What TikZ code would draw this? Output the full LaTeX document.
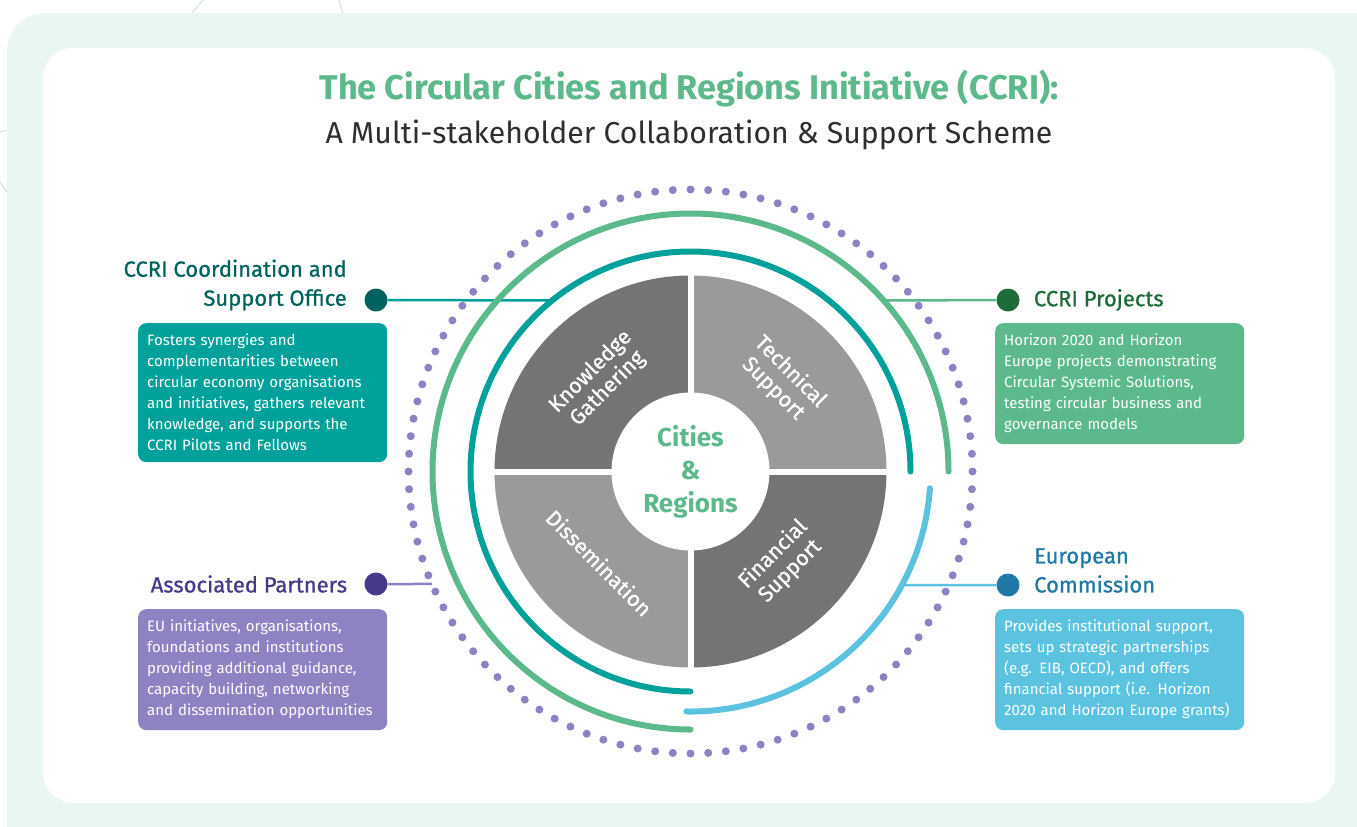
\documentclass[tikz,border=0pt]{standalone}
\usepackage{fontspec}
\setmainfont{Fira Sans}
\newfontfamily\medfont{Fira Sans}[FakeBold=0.8]
\usetikzlibrary{positioning}

\definecolor{ccrigreen}{HTML}{5BB98B}
\definecolor{ccriteal}{HTML}{00A19A}
\definecolor{ccriblue}{HTML}{5BC3E0}
\definecolor{ccripurple}{HTML}{8E82C2}
\definecolor{darkteal}{HTML}{00625F}
\definecolor{darkgreen}{HTML}{1E6B3A}
\definecolor{darkblue}{HTML}{1F78A6}
\definecolor{darkpurple}{HTML}{45398A}
\definecolor{framegreen}{HTML}{EAF6F0}
\definecolor{faintgreen}{HTML}{C8E8D6}
\definecolor{quaddark}{HTML}{747474}
\definecolor{quadlight}{HTML}{9A9A9A}
\definecolor{subgray}{HTML}{2E2E2E}

\begin{document}
\begin{tikzpicture}[x=1pt,y=-1pt]
\def\rin{79}; %radius of the white centre
\def\rout{196}; %outer radius of the quadrants
\def\rlab{129}; %radius where the quadrant texts sit
\def\gapw{6}; %white gap between quadrants
\def\rteal{220};
\def\rblue{240};
\def\rgreen{258};
\def\rdot{282}; %radius of the dotted ring
\def\dotstep{3.6}; %degrees between two dots
\def\arcw{6};

\tikzstyle{hubdot} = [circle, inner sep=0mm, minimum size=23pt]
\tikzstyle{link} = [line width=2.5pt]
\tikzstyle{lbltxt} = [inner sep=0mm, font=\medfont\fontsize{22}{29}\selectfont]
\tikzstyle{infobox} = [rounded corners=8pt, text=white, align=left, anchor=north west, text width=231pt, inner xsep=9pt, inner ysep=11pt, font=\fontsize{15}{21}\selectfont]
\tikzstyle{quadtxt} = [text=white, align=center, inner sep=0mm, font=\medfont\fontsize{21.5}{24}\selectfont]
\tikzstyle{ring} = [line width=\arcw pt, line cap=round]

\useasboundingbox (0,0) rectangle (1357,827);
\clip (0,0) rectangle (1357,827);

% background frame
\fill[framegreen, rounded corners=38pt] (7,13) rectangle (1420,880);
\fill[white, rounded corners=30pt] (43,48) rectangle (1335,803);
\draw[faintgreen, line width=1pt] (192,13) -- (203,0);
\draw[faintgreen, line width=1pt] (339,0) -- (343,13);
\draw[faintgreen, line width=1pt] (0,132) -- (7,130);
\draw[faintgreen, line width=1pt] (0,182) -- (7,192);

% title
\node[anchor=base, text=ccrigreen, font=\bfseries\fontsize{34.3}{38}\selectfont] (title) at (689,99) {The Circular Cities and Regions Initiative (CCRI):};
\node[anchor=base, text=subgray, font=\fontsize{30.2}{34}\selectfont] (subtitle) at (689,143) {A Multi-stakeholder Collaboration \& Support Scheme};

% the wheel
\begin{scope}[shift={(690.5,471.5)},y=1pt]
\fill[quaddark] (0,0) -- (90:\rout) arc (90:180:\rout) -- cycle;
\fill[quadlight] (0,0) -- (0:\rout) arc (0:90:\rout) -- cycle;
\fill[quadlight] (0,0) -- (180:\rout) arc (180:270:\rout) -- cycle;
\fill[quaddark] (0,0) -- (270:\rout) arc (270:360:\rout) -- cycle;
\draw[white, line width=\gapw pt] (-\rout-2,0) -- (\rout+2,0);
\draw[white, line width=\gapw pt] (0,-\rout-2) -- (0,\rout+2);
\fill[white] (0,0) circle (\rin);

\node[align=center, text=ccrigreen, font=\bfseries\fontsize{26}{33}\selectfont] (cities) at (0,0) {Cities\\\&\\Regions};
\node[quadtxt, rotate=45] (knowledge) at (135:\rlab) {Knowledge\\Gathering};
\node[quadtxt, rotate=-45] (technical) at (45:\rlab) {Technical\\Support};
\node[quadtxt, rotate=-45] (dissem) at (225:\rlab) {Dissemination};
\node[quadtxt, rotate=45] (financial) at (-45:\rlab) {Financial\\Support};

%end points of the connectors on the rings
\coordinate (tealhit) at ({180-asin(171/\rteal)}:\rteal);
\coordinate (greenhit) at ({asin(171/\rgreen)}:\rgreen);
\coordinate (bluehit) at ({-asin(113.5/\rblue)}:\rblue);
\coordinate (dothit) at ({180+asin(112.5/\rdot)}:\rdot);
\end{scope}

% stakeholders
\node[hubdot, fill=darkteal] (csodot) at (376,300) {};
\node[hubdot, fill=darkpurple] (apdot) at (376,584) {};
\node[hubdot, fill=darkgreen] (projdot) at (1008,300) {};
\node[hubdot, fill=darkblue] (ecdot) at (1008,585) {};

\node[lbltxt, text=darkteal, align=right, anchor=east] (csolbl) at (347,285) {CCRI Coordination and\\Support Office};
\node[lbltxt, text=darkpurple, left=17pt of apdot] (aplbl) {Associated Partners};
\node[lbltxt, text=darkgreen, right=14pt of projdot] (projlbl) {CCRI Projects};
\node[lbltxt, text=darkblue, align=left, anchor=west] (eclbl) at (1034,570.5) {European\\Commission};

\node[infobox, fill=ccriteal] (csobox) at (138,323) {Fosters synergies and\\complementarities between\\circular economy organisations\\and initiatives, gathers relevant\\knowledge, and supports the\\CCRI Pilots and Fellows};
\node[infobox, fill=ccripurple] (apbox) at (138,609) {EU initiatives, organisations,\\foundations and institutions\\providing additional guidance,\\capacity building, networking\\and dissemination opportunities};
\node[infobox, fill=ccrigreen] (projbox) at (995,323) {Horizon 2020 and Horizon\\Europe projects demonstrating\\Circular Systemic Solutions,\\testing circular business and\\governance models};
\node[infobox, fill=ccriblue] (ecbox) at (995,609) {Provides institutional support,\\sets up strategic partnerships\\(e.g. EIB, OECD), and offers\\financial support (i.e. Horizon\\2020 and Horizon Europe grants)};

% connectors
\draw[link, ccriteal] (csodot) -- (tealhit);
\draw[link, ccripurple] (apdot) -- (dothit);
\draw[link, ccrigreen] (projdot) -- (greenhit);
\draw[link, ccriblue] (ecdot) -- (bluehit);

% rings
\begin{scope}[shift={(690.5,471.5)},y=1pt]
\foreach \k in {1,...,100}{
 \fill[ccripurple] ({90+\k*\dotstep}:\rdot) circle (4);
}
\draw[ring, ccriteal] (0:\rteal) arc (0:270:\rteal);
\draw[ring, ccrigreen] (0:\rgreen) arc (0:270:\rgreen);
\draw[ring, ccriblue] (-4:\rblue) arc (-4:-91:\rblue);
\end{scope}

\end{tikzpicture}
\end{document}
